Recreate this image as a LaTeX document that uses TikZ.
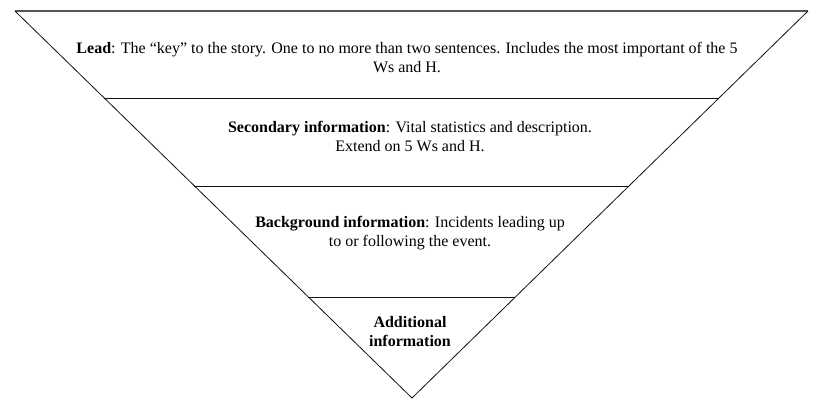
\documentclass[tikz,border=0pt]{standalone}
\usepackage{fontspec}
\setmainfont{Liberation Serif}
\usepackage{tikz}
\usetikzlibrary{calc}
\definecolor{EDGE}{HTML}{111111}
\definecolor{TOPEDGE}{HTML}{555555}
\tikzset{
  tier/.style={font=\fontsize{16}{19}\selectfont, align=center, inner sep=0pt},
  divider/.style={line width=0.8pt, draw=EDGE},
}
\begin{document}
\begin{tikzpicture}[x=1pt, y=-1pt]%
\useasboundingbox (0,0) rectangle (817,407);%
\coordinate (tl) at (15,11);%
\coordinate (tr) at (808,11);%
\coordinate (apex) at (412,398);%
\draw[line width=1.4pt, draw=TOPEDGE] (tl) -- (tr);%
\draw[divider] (tl) -- (apex) -- (tr);%
\draw[divider] ($(tl)!0.2248!(apex)$) -- ($(tr)!0.2248!(apex)$);%
\draw[divider] ($(tl)!0.452!(apex)$) -- ($(tr)!0.452!(apex)$);%
\draw[divider] ($(tl)!0.739!(apex)$) -- ($(tr)!0.739!(apex)$);%
\node[tier] (lead) at (407,57) {\textbf{Lead}: The “key” to the story. One to no more than two sentences. Includes the most important of the 5\\Ws and H.};%
\node[tier] (secondary) at (410,136) {\textbf{Secondary information}: Vital statistics and description.\\Extend on 5 Ws and H.};%
\node[tier] (background) at (410,233) {\textbf{Background information}: Incidents leading up\\to or following the event.};%
\node[tier] (additional) at (410,332) {\textbf{Additional}\\\textbf{information}};%
\end{tikzpicture}
\end{document}
